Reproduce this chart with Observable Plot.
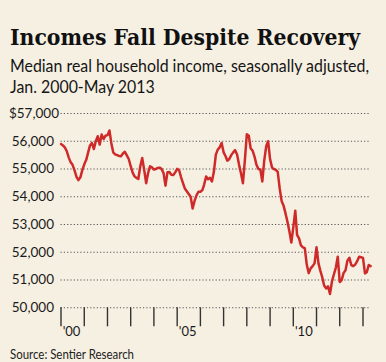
<!DOCTYPE html>
<html><head><meta charset="utf-8">
<script src="https://cdn.jsdelivr.net/npm/d3@7"></script>
<script src="https://cdn.jsdelivr.net/npm/@observablehq/plot@0.6"></script>
<style>
html,body{margin:0;padding:0;background:#f6f0e3;width:386px;height:362px;overflow:hidden;}
#wrap{position:relative;width:386px;height:362px;background:#f6f0e3;}
.t{position:absolute;left:10px;white-space:nowrap;transform-origin:0 0;color:#151515;line-height:1;margin:0;}
#title{top:27px;font-family:"DejaVu Serif",serif;font-weight:bold;font-size:21.5px;color:#111;}
#sub1{top:58px;font-family:Lato,sans-serif;font-size:16.5px;}
#sub2{top:79px;font-family:Lato,sans-serif;font-size:16.5px;}
#source{top:348px;font-family:Lato,sans-serif;font-size:13px;color:#222;}
#chart{position:absolute;left:0;top:100px;}
</style></head>
<body><div id="wrap">
<div class="t" id="title">Incomes Fall Despite Recovery</div>
<div class="t" id="sub1">Median real household income, seasonally adjusted,</div>
<div class="t" id="sub2">Jan. 2000-May 2013</div>
<div id="chart"></div>
<div class="t" id="source">Source: Sentier Research</div>
</div>
<script>
// Monthly median real household income, Jan. 2000 - May 2013
const income2000 = [55900, 55850, 55780, 55640, 55420, 55240, 55150, 54950, 54720, 54600, 54700, 54960];
const income2001 = [55170, 55330, 55580, 55850, 55940, 55720, 56000, 56180, 55880, 56240, 56080, 56200];
const income2002 = [56220, 56390, 55950, 55600, 55530, 55500, 55470, 55460, 55560, 55620, 55490, 55360];
const income2003 = [55100, 54870, 54740, 54680, 54640, 55100, 55400, 54970, 54490, 54850, 55100, 55060];
const income2004 = [54980, 55000, 55040, 55050, 55000, 54850, 54400, 54880, 54890, 54790, 54780, 54880];
const income2005 = [55010, 54950, 54720, 54500, 54300, 54200, 54100, 54000, 53580, 53850, 54050, 54180];
const income2006 = [54180, 54240, 54440, 54730, 54630, 54680, 54550, 54900, 55520, 55700, 55780, 55940];
const income2007 = [55600, 55460, 55300, 55360, 55500, 55600, 55680, 55520, 55150, 54850, 54490, 55300];
const income2008 = [56250, 56200, 55750, 55660, 55450, 55150, 55000, 54980, 54550, 55300, 55820, 56000];
const income2009 = [55350, 55050, 55000, 54970, 54900, 54300, 53850, 53680, 53400, 53100, 52750, 52350];
const income2010 = [52900, 53500, 52630, 52500, 52250, 52180, 52150, 51550, 51250, 51420, 51500, 51600];
const income2011 = [52180, 51600, 51350, 51100, 50800, 50700, 50770, 50500, 50950, 51200, 51450, 51840];
const income2012 = [50930, 51000, 51250, 51350, 51700, 51800, 51540, 51500, 51560, 51680, 51840, 51820];
const income2013 = [51800, 51240, 51280, 51540, 51500];

const yTicks = [50000, 51000, 52000, 53000, 54000, 55000, 56000, 57000];
const tickYears = [2000, 2001, 2002, 2003, 2004, 2005, 2006, 2007, 2008, 2009, 2010, 2011, 2012, 2013];
const yearLabels = {2000: "'00", 2005: "'05", 2010: "'10"};

const series = [income2000, income2001, income2002, income2003, income2004, income2005, income2006,
  income2007, income2008, income2009, income2010, income2011, income2012, income2013];
const data = [];
series.forEach((vals, yi) => vals.forEach((v, mi) => data.push({date: new Date(Date.UTC(2000 + yi, mi, 1)), value: v})));
const tickDates = tickYears.map(y => new Date(Date.UTC(y, 0, 1)));

const TOP = 100, H = 245;
const yBottom = 307.3 - TOP, yTop = 113 - TOP;
const fmt = d3.format(",");
const font = "Lato, sans-serif";
const TICK_LEN = 19;
const tickDepth = TICK_LEN * (yTicks[yTicks.length - 1] - yTicks[0]) / (yBottom - yTop);

const chart = Plot.plot({
  width: 386, height: H,
  marginLeft: 61, marginRight: 14, marginTop: 0, marginBottom: H - yBottom,
  x: {type: "utc", domain: [tickDates[0], tickDates[tickDates.length - 1]], range: [60.5, 362.5], axis: null},
  y: {domain: [yTicks[0], yTicks[yTicks.length - 1]], range: [yBottom, yTop], axis: null},
  style: {background: "transparent", fontFamily: font, overflow: "visible", color: "#1a1a1a"},
  marks: [
    Plot.ruleY(yTicks, {x1: data[0].date, x2: data[data.length - 1].date, stroke: "#555", strokeDasharray: "1.2,2.1", strokeWidth: 1.1}),
    Plot.text(yTicks.filter(d => d !== 57000), {y: d => d, frameAnchor: "left", text: d => fmt(d), textAnchor: "end", dx: -7.5, fontSize: 13.5, fill: "#1a1a1a"}),
    Plot.text(yTicks.filter(d => d === 57000), {y: d => d, frameAnchor: "left", text: d => "$" + fmt(d), textAnchor: "end", dx: -2.5, fontSize: 13.5, fill: "#1a1a1a"}),
    Plot.ruleX(tickDates, {x: d => d, y1: yTicks[0], y2: yTicks[0] - tickDepth, stroke: "#333", strokeWidth: 1.4}),
    Plot.axisX(tickDates, {anchor: "bottom", tickSize: 0, tickPadding: TICK_LEN, tickFormat: d => yearLabels[d.getUTCFullYear()] || "",
      textAnchor: "middle", dx: 10.5, fontSize: 13, fill: "#1a1a1a", label: null}),
    Plot.line(data, {x: "date", y: "value", stroke: "#cf2a2a", strokeWidth: 2.5, strokeLinejoin: "round"})
  ]
});
document.getElementById("chart").appendChild(chart);

function fit(id, w) {
  const el = document.getElementById(id);
  const k = w / el.getBoundingClientRect().width;
  el.style.transform = `scaleX(${k})`;
  return k;
}
fit("title", 350);
const k = fit("sub1", 359);
document.getElementById("sub2").style.transform = `scaleX(${k})`;
fit("source", 124);
</script>
</body></html>
